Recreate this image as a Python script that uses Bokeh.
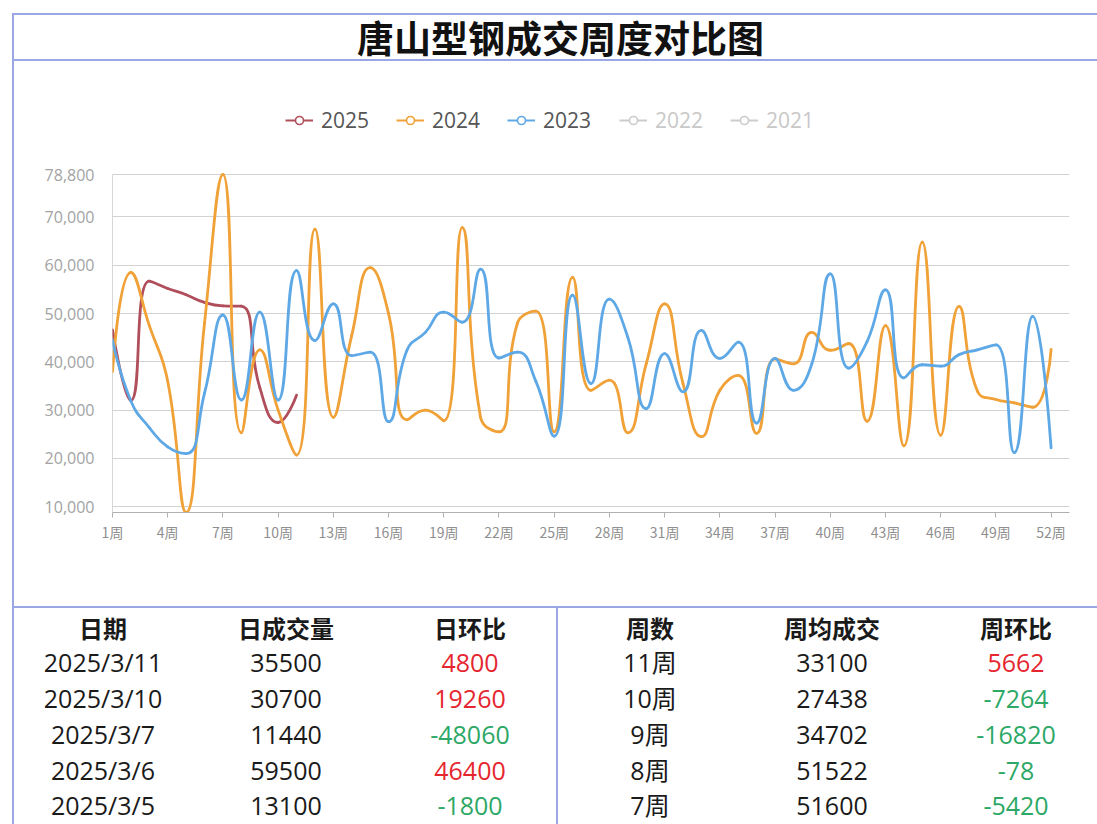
import math
import numpy as np
from bokeh.plotting import figure
from bokeh.models import (Range1d, FixedTicker, NumeralTickFormatter, Legend, LegendItem,
                          ColumnDataSource, Div)
from bokeh.layouts import row, column
from bokeh.embed import file_html
from bokeh.resources import INLINE

# ---------------- data ----------------
title_text = "唐山型钢成交周度对比图"
weeks = list(range(1, 54))                      # 53 categories (1周..53周)
week_tick_values = list(range(1, 53, 3))        # 1,4,...,52
y_ticks = [10000, 20000, 30000, 40000, 50000, 60000, 70000, 78800]
y_min = 8800
y_max = 78800

series_names = ["2025", "2024", "2023", "2022", "2021"]

s2025 = [46600, 32000, 56700, 55200, 53900, 52300, 51600, 51522, 34702, 27438, 33100]

s2024 = [38000, 58500, 47500, 36000, 8800, 48000, 78800, 25300, 42500, 30000,
         20700, 67500, 28500, 45500, 59500, 50000, 28000, 30000, 27800, 67800,
         28500, 25500, 48000, 50500, 25500, 57500, 34100, 36200, 25300, 39600,
         52000, 35500, 24500, 34100, 37200, 25200, 40600, 39600, 46100, 42400,
         43800, 27700, 47500, 22600, 64800, 24800, 51500, 33900, 32200, 31500,
         30600, 42600]

s2023 = [44500, 31900, 26400, 22400, 21000, 33500, 49700, 32100, 50300, 32100,
         58900, 44400, 52000, 41300, 42000, 27600, 42400, 46100, 50300, 48200,
         59200, 40800, 42000, 36000, 24600, 53800, 35500, 53000, 45100, 30300,
         41700, 33800, 46500, 40700, 44100, 27300, 40700, 34100, 39600, 58200,
         38700, 44200, 54900, 36700, 39400, 39100, 41500, 42500, 43500, 21200,
         49400, 22200]

# table data
day_header = ["日期", "日成交量", "日环比"]
dates = ["2025/3/11", "2025/3/10", "2025/3/7", "2025/3/6", "2025/3/5"]
daily_volume = [35500, 30700, 11440, 59500, 13100]
daily_change = [4800, 19260, -48060, 46400, -1800]

week_header = ["周数", "周均成交", "周环比"]
week_names = ["11周", "10周", "9周", "8周", "7周"]
weekly_avg = [33100, 27438, 34702, 51522, 51600]
weekly_change = [5662, -7264, -16820, -78, -5420]

# ---------------- styles ----------------
BORDER = "#9ba6e4"
COLORS = {"2025": "#b04f5b", "2024": "#f0a137", "2023": "#5ea8e6",
          "2022": "#cccccc", "2021": "#cccccc"}
UP = "#e5262f"
DOWN = "#2da866"
CJK = "Noto Sans CJK SC"
LATIN = "Open Sans"

LEFT_W = 14
COL_W = 1083
TITLE_H = 62
FIG_W, FIG_H = COL_W, 544
TABLE_H = 218
BL, BR, BT, BB = 98, 28, 38, 94
frame_h = FIG_H - BT - BB
frame_w = FIG_W - BL - BR
plot_h = 338                                  # pixel span from y_min to y_max
y_end = y_min + (y_max - y_min) * frame_h / plot_h

SX = frame_w / (weeks[-1] - weeks[0])
SY = plot_h / (y_max - y_min)


def clamp(v, a, b):
    lo, hi = min(a, b), max(a, b)
    return max(lo, min(hi, v))


def smooth_segments(xs, ys, smooth=0.5):
    """Cubic bezier segments through the data points (ECharts-like smoothing)."""
    pts = [(x * SX, y * SY) for x, y in zip(xs, ys)]
    n = len(pts)
    out = dict(x0=[], y0=[], x1=[], y1=[], cx0=[], cy0=[], cx1=[], cy1=[])
    c0x, c0y = pts[0]
    for i in range(1, n):
        px, py = pts[i - 1]
        x, y = pts[i]
        if i == n - 1:
            c1x, c1y = x, y
            ncx, ncy = x, y
        else:
            nx, ny = pts[i + 1]
            vx, vy = nx - px, ny - py
            lp = math.hypot(x - px, y - py)
            ln = math.hypot(nx - x, ny - y)
            r = ln / (ln + lp)
            ncx = clamp(x + vx * smooth * r, nx, x)
            ncy = clamp(y + vy * smooth * r, ny, y)
            vx, vy = ncx - x, ncy - y
            c1x = clamp(x - vx * lp / ln, px, x)
            c1y = clamp(y - vy * lp / ln, py, y)
            vx, vy = x - c1x, y - c1y
            ncx = x + vx * ln / lp
            ncy = y + vy * ln / lp
        out["x0"].append(px / SX); out["y0"].append(py / SY)
        out["x1"].append(x / SX); out["y1"].append(y / SY)
        out["cx0"].append(c0x / SX); out["cy0"].append(c0y / SY)
        out["cx1"].append(c1x / SX); out["cy1"].append(c1y / SY)
        c0x, c0y = ncx, ncy
    return out


# ---------------- chart ----------------
p = figure(width=FIG_W, height=FIG_H, output_backend="svg", toolbar_location=None,
           x_range=Range1d(weeks[0], weeks[-1]), y_range=Range1d(y_min, y_end),
           min_border_left=BL, min_border_right=BR, min_border_top=BT, min_border_bottom=BB,
           background_fill_color="white", border_fill_color="white")
p.outline_line_color = None
p.xgrid.grid_line_color = None
p.ygrid.grid_line_color = "#d2d2d2"
p.ygrid.grid_line_width = 1

p.yaxis.ticker = FixedTicker(ticks=y_ticks)
p.yaxis.formatter = NumeralTickFormatter(format="0,0")
p.yaxis.axis_line_color = None
p.yaxis.major_tick_line_color = None
p.yaxis.minor_tick_line_color = None
p.yaxis.major_label_standoff = 12
p.yaxis.major_label_text_color = "#a3a3a3"
p.yaxis.major_label_text_font = LATIN
p.yaxis.major_label_text_font_size = "16px"

p.xaxis.ticker = FixedTicker(ticks=week_tick_values)
p.xaxis.major_label_overrides = {w: f"{w}周" for w in week_tick_values}
p.xaxis.axis_line_color = "#b0b0b0"
p.xaxis.major_tick_line_color = "#b0b0b0"
p.xaxis.major_tick_out = 5
p.xaxis.major_tick_in = 0
p.xaxis.minor_tick_line_color = None
p.xaxis.major_label_standoff = 4
p.xaxis.major_label_text_color = "#8f8f8f"
p.xaxis.major_label_text_font = CJK
p.xaxis.major_label_text_font_size = "14px"

# y axis line only over the data span
p.segment(x0=[weeks[0]], y0=[y_min], x1=[weeks[0]], y1=[y_max],
          line_color="#b0b0b0", line_width=1)

for name, vals in (("2025", s2025), ("2024", s2024), ("2023", s2023)):
    xs = weeks[:len(vals)]
    src = ColumnDataSource(smooth_segments(xs, vals))
    p.bezier(x0="x0", y0="y0", x1="x1", y1="y1", cx0="cx0", cy0="cy0",
             cx1="cx1", cy1="cy1", source=src, line_color=COLORS[name],
             line_width=2.8, line_join="round", line_cap="round")


def legend_item(name):
    c = COLORS[name]
    ln = p.line(x=np.array([np.nan]), y=np.array([np.nan]), line_color=c, line_width=2)
    sc = p.scatter(x=np.array([np.nan]), y=np.array([np.nan]), marker="circle", size=12,
                   fill_color="white", line_color=c, line_width=1.6)
    return LegendItem(label=name, renderers=[ln, sc])


legend_common = dict(orientation="horizontal", glyph_width=28, glyph_height=20,
                     label_standoff=8, spacing=27, padding=0, margin=0,
                     border_line_color=None, background_fill_alpha=0,
                     label_text_font=LATIN, label_text_font_size="21px")
leg_on = Legend(items=[legend_item(n) for n in series_names[:3]],
                location=(173, 378), label_text_color="#555555", **legend_common)
leg_off = Legend(items=[legend_item(n) for n in series_names[3:]],
                 location=(507, 378), label_text_color="#c8c8c8", **legend_common)
p.add_layout(leg_on, "center")
p.add_layout(leg_off, "center")

# ---------------- title ----------------
title_html = (
    f'<div style="width:{COL_W}px;box-sizing:border-box;margin-top:13px;height:48px;'
    f'border-top:2px solid {BORDER};border-bottom:2px solid {BORDER};display:flex;'
    f'align-items:center;justify-content:center;padding-left:10px;'
    f"font-family:'{CJK}';font-weight:700;font-size:37px;color:#111;\">{title_text}</div>"
)
title_div = Div(text=title_html, width=COL_W, height=TITLE_H, margin=0)


# ---------------- table ----------------
def cell(x, y, text, color="#1a1a1a", size=25, weight=400):
    return (f'<div style="position:absolute;left:{x}px;top:{y}px;'
            f'transform:translate(-50%,-50%);white-space:nowrap;line-height:1;'
            f"font-family:'{LATIN}','{CJK}';font-size:{size}px;font-weight:{weight};"
            f'color:{color};">{text}</div>')


left_cols = [89, 272, 456]
right_cols = [636, 818, 1002]
header_y = 23
row_ys = [56, 92, 128, 164, 199]

parts = [f'<div style="position:relative;width:{COL_W}px;height:{TABLE_H}px;overflow:hidden;">',
         f'<div style="position:absolute;left:0;top:0;width:{COL_W}px;height:2px;background:{BORDER};"></div>',
         f'<div style="position:absolute;left:542px;top:0;width:2px;height:{TABLE_H}px;background:{BORDER};"></div>']
for cx, h in zip(left_cols, day_header):
    parts.append(cell(cx, header_y, h, size=24, weight=700))
for cx, h in zip(right_cols, week_header):
    parts.append(cell(cx, header_y, h, size=24, weight=700))
for i, ry in enumerate(row_ys):
    parts.append(cell(left_cols[0], ry, dates[i]))
    parts.append(cell(left_cols[1], ry, str(daily_volume[i])))
    parts.append(cell(left_cols[2], ry, str(daily_change[i]),
                      color=UP if daily_change[i] > 0 else DOWN))
    parts.append(cell(right_cols[0], ry, week_names[i]))
    parts.append(cell(right_cols[1], ry, str(weekly_avg[i])))
    parts.append(cell(right_cols[2], ry, str(weekly_change[i]),
                      color=UP if weekly_change[i] > 0 else DOWN))
parts.append('</div>')
table_div = Div(text="".join(parts), width=COL_W, height=TABLE_H, margin=0)

# ---------------- left frame line ----------------
TOTAL_H = TITLE_H + FIG_H + TABLE_H
line_div = Div(text=f'<div style="margin-left:12px;margin-top:13px;width:2px;'
                    f'height:{TOTAL_H - 13}px;background:{BORDER};"></div>',
               width=LEFT_W, height=TOTAL_H, margin=0)

layout = row(line_div, column(title_div, p, table_div, spacing=0), spacing=0)

open("out.html", "w").write(file_html(layout, INLINE))
